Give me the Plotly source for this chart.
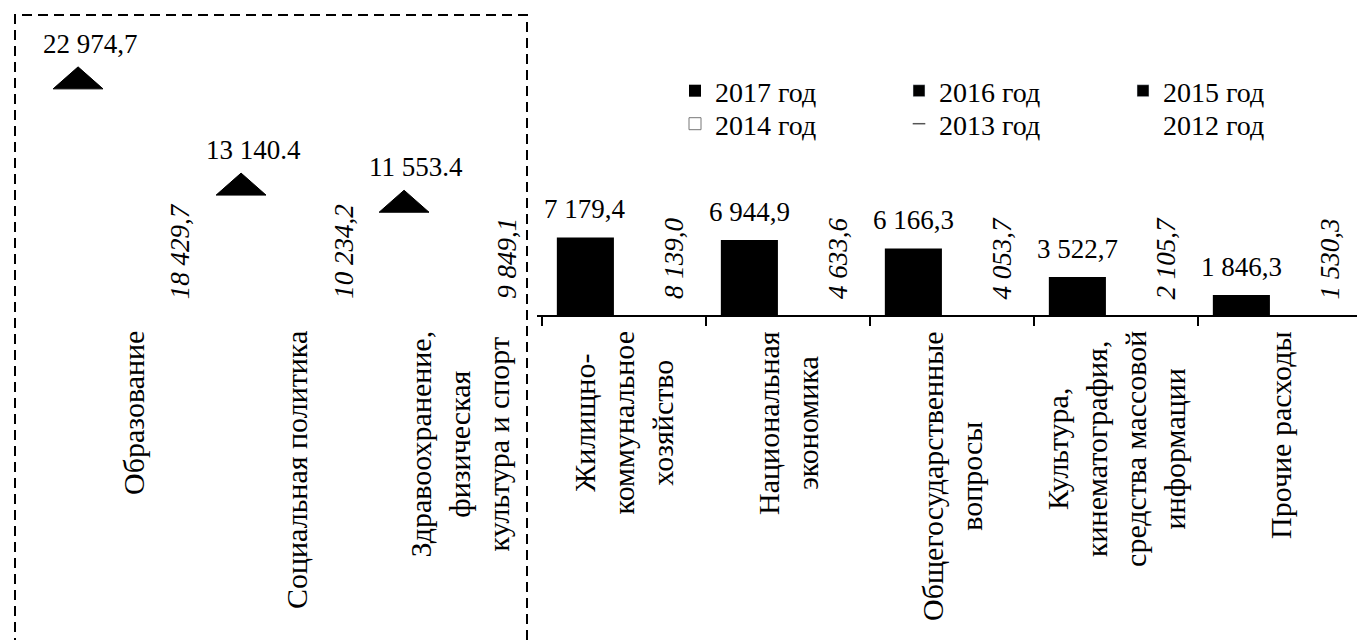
import plotly.graph_objects as go

# ---------------- data ----------------
left_categories = ["Образование", "Социальная политика",
                   "Здравоохранение,<br>физическая<br>культура и спорт"]
left_2017 = [22974.7, 13140.4, 11553.4]
left_2012 = [18429.7, 10234.2, 9849.1]
left_sep = [",", ".", "."]

right_categories = ["Жилищно-<br>коммунальное<br>хозяйство", "Национальная<br>экономика",
                    "Общегосударственные<br>вопросы",
                    "Культура,<br>кинематография,<br>средства массовой<br>информации",
                    "Прочие расходы"]
right_2017 = [7179.4, 6944.9, 6166.3, 3522.7, 1846.3]
right_2012 = [8139.0, 4633.6, 4053.7, 2105.7, 1530.3]

legend_row1 = ["2017 год", "2016 год", "2015 год"]
legend_row2 = ["2014 год", "2013 год", "2012 год"]

# ---------------- style ----------------
W, H = 1357, 640
FONT = "Liberation Serif"
PX_PER_UNIT = 0.0108          # pixels per data unit on y
AXIS_Y = 315                  # pixel row of zero line
Y_TOP = AXIS_Y / PX_PER_UNIT


def fmt(v, dec=","):
    s = f"{v:,.1f}"
    return s.replace(",", " ").replace(".", dec)


fig = go.Figure()

# left panel: pyramid tops at 2017 values
tri_off, tri_half, tri_h = -0.337, 0.153, 22 / PX_PER_UNIT
tx, ty = [], []
for i, v in enumerate(left_2017):
    c = i + tri_off
    tx += [c - tri_half, c + tri_half, c, c - tri_half, None]
    ty += [v - tri_h, v - tri_h, v, v - tri_h, None]
fig.add_trace(go.Scatter(x=tx, y=ty, fill="toself", fillcolor="black", mode="lines",
                         line=dict(color="black", width=1), showlegend=False,
                         hoverinfo="skip", xaxis="x", yaxis="y"))

# right panel bars
fig.add_trace(go.Bar(x=list(range(len(right_2017))), y=right_2017, name=legend_row1[0],
                     marker=dict(color="black", line=dict(width=0)),
                     width=0.348, offset=-0.409, xaxis="x2", yaxis="y", legend="legend"))
fig.add_trace(go.Bar(x=[None], y=[None], name=legend_row1[1], marker_color="black",
                     xaxis="x2", yaxis="y", legend="legend"))
fig.add_trace(go.Bar(x=[None], y=[None], name=legend_row1[2], marker_color="black",
                     xaxis="x2", yaxis="y", legend="legend"))
fig.add_trace(go.Bar(x=[None], y=[None], name=legend_row2[0],
                     marker=dict(color="white", line=dict(color="#777", width=1)),
                     xaxis="x2", yaxis="y", legend="legend2"))
fig.add_trace(go.Scatter(x=[None], y=[None], name=legend_row2[1], mode="markers",
                         marker=dict(symbol="line-ew-open", size=9, color="#555",
                                     line=dict(color="#555", width=1.5)),
                         xaxis="x2", yaxis="y", legend="legend2"))
fig.add_trace(go.Bar(x=list(range(len(right_2012))), y=right_2012, name=legend_row2[2],
                     marker=dict(color="rgba(255,255,255,0)", line=dict(width=0)),
                     width=0.35, offset=-0.061, xaxis="x2", yaxis="y", legend="legend2"))

ann = []
# left labels
for i, v in enumerate(left_2017):
    ann.append(dict(x=i + tri_off, y=v, xref="x", yref="y", text=fmt(v, left_sep[i]),
                    showarrow=False, xanchor="center", yanchor="bottom", xshift=12, yshift=6,
                    font=dict(family=FONT, size=27, color="black")))
for i, v in enumerate(left_2012):
    ann.append(dict(x=i + 0.29, y=0, xref="x", yref="y", text="<i>" + fmt(v) + "</i>",
                    showarrow=False, textangle=-90, xanchor="center", yanchor="bottom",
                    yshift=14, font=dict(family=FONT, size=27, color="black")))
for i, c in enumerate(left_categories):
    ann.append(dict(x=i, y=0, xref="x", yref="y", text=c, showarrow=False,
                    textangle=-90, xanchor="center", yanchor="top", yshift=-14,
                    align="center", font=dict(family=FONT, size=30, color="black")))
# right labels
for i, v in enumerate(right_2017):
    ann.append(dict(x=i - 0.235, y=v, xref="x2", yref="y", text=fmt(v),
                    showarrow=False, xanchor="center", yanchor="bottom", yshift=11,
                    font=dict(family=FONT, size=27, color="black")))
for i, v in enumerate(right_2012):
    ann.append(dict(x=i + 0.305, y=0, xref="x2", yref="y", text="<i>" + fmt(v) + "</i>",
                    showarrow=False, textangle=-90, xanchor="center", yanchor="bottom",
                    yshift=14, font=dict(family=FONT, size=27, color="black")))
for i, c in enumerate(right_categories):
    ann.append(dict(x=i, y=0, xref="x2", yref="y", text=c, showarrow=False,
                    textangle=-90, xanchor="center", yanchor="top", yshift=-14,
                    align="center", font=dict(family=FONT, size=30, color="black")))

fig.update_layout(
    width=W, height=H, margin=dict(l=0, r=0, t=0, b=0),
    paper_bgcolor="white", plot_bgcolor="white",
    barmode="overlay", showlegend=True,
    font=dict(family=FONT, size=28, color="black"),
    xaxis=dict(domain=[51.5 / W, 524.2 / W], range=[-0.5, 2.4], visible=False,
               anchor="y"),
    xaxis2=dict(domain=[537 / W, 1.0], range=[-0.53, 4.47], anchor="y",
                showline=True, linecolor="black", linewidth=2,
                tickmode="array", tickvals=[-0.5, 0.5, 1.5, 2.5, 3.5],
                ticks="outside", ticklen=9, tickwidth=1.5, tickcolor="black",
                showticklabels=False, showgrid=False, zeroline=False),
    yaxis=dict(domain=[1 - AXIS_Y / H, 1.0], range=[0, Y_TOP], visible=False,
               anchor="x2"),
    legend=dict(orientation="h", x=675 / W, xanchor="left", y=1 - 91 / H, yanchor="middle",
                entrywidth=179, entrywidthmode="pixels", bgcolor="rgba(0,0,0,0)",
                font=dict(family=FONT, size=28, color="black"), traceorder="normal"),
    legend2=dict(orientation="h", x=675 / W, xanchor="left", y=1 - 124 / H, yanchor="middle",
                 entrywidth=179, entrywidthmode="pixels", bgcolor="rgba(0,0,0,0)",
                 font=dict(family=FONT, size=28, color="black"), traceorder="normal"),
    annotations=ann,
    shapes=[dict(type="rect", xref="paper", yref="paper", x0=15 / W, x1=527 / W,
                 y0=-0.05, y1=1 - 15 / H, line=dict(color="black", width=2, dash="10px,6px"),
                 fillcolor="rgba(0,0,0,0)", layer="above")],
)

fig.write_html("out.html")
